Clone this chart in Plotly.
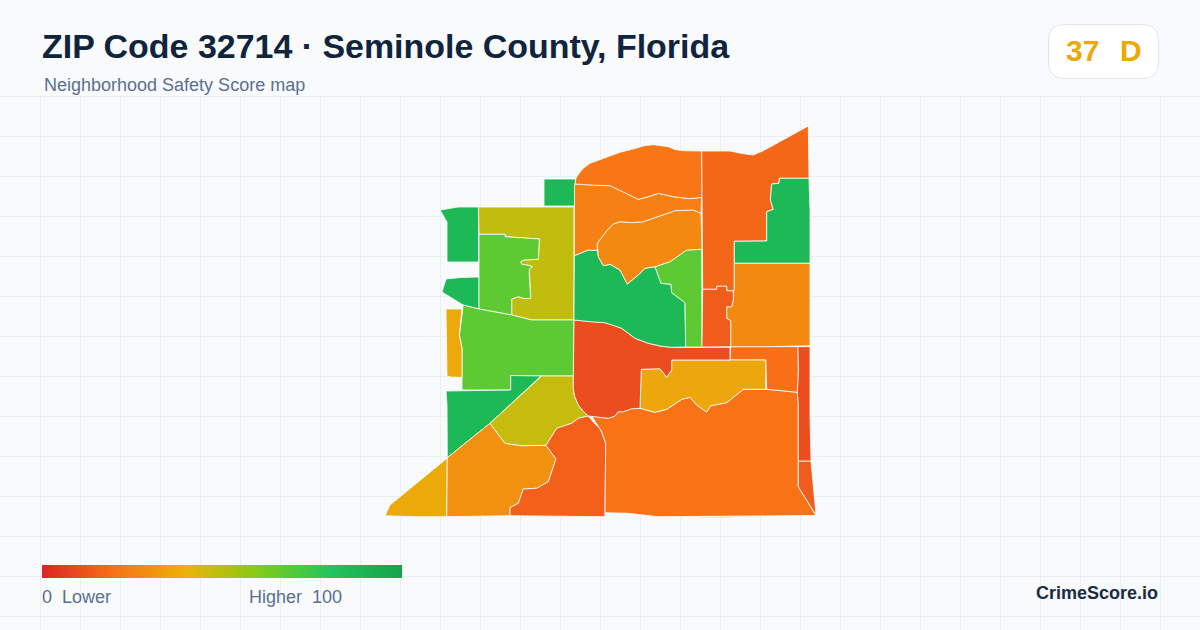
import plotly.graph_objects as go
from plotly.colors import sample_colorscale

title = "ZIP Code 32714 · Seminole County, Florida"
subtitle = "Neighborhood Safety Score map"
zip_score = 37
zip_grade = "D"
brand = "CrimeScore.io"

score_stops = [0, 0.2, 0.4, 0.6, 0.8, 1]
score_colors = ["rgb(220,38,38)", "rgb(249,115,22)", "rgb(234,179,8)", "rgb(132,204,22)", "rgb(34,197,94)", "rgb(22,163,74)"]
legend_scores = list(range(0, 101))

# one score per tract
tract_scores = [87, 87, 87, 48, 68, 68, 37, 87, 37, 29, 47, 15, 20, 14, 10, 19, 36, 10, 87, 68, 27, 24, 21, 17, 87, 27, 14, 36]

# tract outlines
tract_outlines = [
    [(544, 179), (575.5, 179), (575, 206), (544, 206)],
    [(440, 210), (458, 207), (478.5, 207), (478.5, 262), (447, 262), (447, 222)],
    [(446, 279), (460, 277.5), (479, 277), (479, 309), (463, 305), (442, 292)],
    [(478.5, 207), (574, 207), (574, 320), (532, 320), (511.7, 315), (511.7, 299), (518.3, 296.7), (525, 298.7), (530.7, 298.3), (529.3, 276.7), (529.3, 269.3), (532.3, 266.7), (528.3, 265.3), (521.7, 264.3), (520.7, 261.7), (523.3, 260), (538.3, 259.3), (539.3, 239), (521.7, 238), (505, 236.7), (505, 234.3), (479, 234.3)],
    [(479, 234.3), (505, 234.3), (505, 236.7), (521.7, 238), (539.3, 239), (538.3, 259.3), (523.3, 260), (520.7, 261.7), (521.7, 264.3), (528.3, 265.3), (532.3, 266.7), (529.3, 269.3), (529.3, 276.7), (530.7, 298.3), (525, 298.7), (518.3, 296.7), (511.7, 299), (511.7, 315), (479, 309)],
    [(463, 305), (479, 309), (511.7, 315), (532, 320), (574, 320), (573.5, 376), (541, 376), (510.7, 375.5), (510.7, 390), (462, 390), (462, 348), (459.3, 335), (462.7, 310)],
    [(446, 309), (462, 309), (459.3, 335), (462, 348), (462, 377.5), (450, 377), (447, 376), (446.5, 343)],
    [(446, 391), (510.7, 390), (510.7, 375.5), (541, 376), (490, 423.3), (447.3, 457.7), (447, 405)],
    [(385, 515.7), (390, 505), (447.3, 458), (446.7, 516.7), (415, 516.7)],
    [(447.3, 457.7), (490, 423.3), (505, 443.3), (521.7, 445.7), (546, 445.3), (556, 459), (548.3, 481.7), (536.7, 488.3), (523.3, 489), (518.3, 503.3), (510, 507.7), (510, 515.7), (446.7, 516.7)],
    [(541.7, 376), (573.3, 376), (573.3, 388.3), (574.5, 396), (578.3, 405), (583, 411), (588.3, 416), (578.3, 418.3), (571.7, 423.3), (556.7, 428.3), (546, 445.3), (521.7, 445.7), (505, 443.3), (490, 423.3)],
    [(588.3, 416), (595, 424), (600, 428.3), (605.7, 443.3), (605, 511.7), (604.7, 516.7), (510, 515.7), (510, 507.7), (518.3, 503.3), (523.3, 489), (536.7, 488.3), (548.3, 481.7), (556, 459), (546, 445.3), (556.7, 428.3), (571.7, 423.3), (578.3, 418.3)],
    [(591.7, 416), (600, 417.3), (608.3, 418.3), (615, 416), (618.3, 411.7), (623.3, 411.7), (631.7, 408.7), (640, 408.3), (655, 412.3), (666.7, 409.3), (681.7, 399.3), (690, 397.3), (696.7, 405), (706.7, 412), (710.7, 405.7), (726.7, 402.7), (743.3, 389.3), (766.7, 389.3), (781.7, 390.7), (797.3, 392.3), (798.3, 403.3), (798.3, 486.7), (815, 514), (816, 515.5), (658, 516.7), (628.3, 513.3), (605, 512.7), (605.7, 443.3), (601.7, 431.7)],
    [(798.3, 461), (811, 461), (816, 515), (798.3, 486.7)],
    [(797.7, 346.7), (810, 346.7), (810, 416), (811, 461), (798.3, 461), (798.3, 403.3), (797.3, 392.3), (798.3, 370)],
    [(730.7, 346.7), (797.7, 346.7), (798.3, 370), (797.3, 392.3), (781.7, 390.7), (766.7, 389.3), (765.7, 360), (730, 360)],
    [(671.7, 360), (765.7, 360), (765.7, 389.3), (743.3, 389.3), (726.7, 402.7), (710.7, 405.7), (706.7, 412), (696.7, 405), (690, 397.3), (681.7, 399.3), (666.7, 409.3), (655, 412.3), (640, 408.3), (641.3, 369.3), (660, 368.7), (666.7, 377.3), (671.7, 370)],
    [(574, 320), (590, 321.7), (605, 322.7), (613, 325), (621.7, 328.3), (635, 338.3), (648.3, 343.3), (661.7, 346.3), (671.7, 347.3), (730, 347.3), (730, 360), (671.7, 360), (671.7, 370), (666.7, 377.3), (660, 368.7), (641.3, 369.3), (640, 408.3), (631.7, 408.7), (623.3, 411.7), (618.3, 411.7), (615, 416), (608.3, 418.3), (600, 417.3), (591.7, 416), (588.3, 416), (583, 411), (578.3, 405), (574.5, 396), (573.3, 388.3), (573.3, 376)],
    [(574.3, 255.7), (588.3, 250), (597.3, 250.3), (598.3, 256.7), (603.3, 265.7), (610, 264.3), (620, 270), (627.3, 284), (638.3, 275), (645, 268.3), (655, 266.7), (661, 283.3), (671, 284.3), (671.7, 292.7), (685, 302.7), (685.7, 347), (671.7, 347.3), (661.7, 346.3), (648.3, 343.3), (635, 338.3), (621.7, 328.3), (613, 325), (605, 322.7), (590, 321.7), (574, 320)],
    [(655, 266.7), (670, 261.7), (686.7, 250), (701.7, 249.3), (702, 347), (685.7, 347), (685, 302.7), (671.7, 292.7), (671, 284.3), (661, 283.3)],
    [(597.3, 243.3), (606.7, 230.7), (613.3, 224), (620, 221.7), (631.7, 222.7), (643.3, 221.7), (675, 210.7), (693.3, 210), (701, 213.3), (702, 249.3), (686.7, 250), (670, 261.7), (655, 266.7), (645, 268.3), (638.3, 275), (627.3, 284), (620, 270), (610, 264.3), (603.3, 265.7), (598.3, 256.7)],
    [(574.5, 184), (590, 185), (610, 185.7), (623.3, 191.7), (631, 196), (638.3, 199.3), (648.3, 196.7), (658.3, 193.3), (673.3, 196.7), (690, 198.7), (701.7, 197.3), (701, 213.3), (693.3, 210), (675, 210.7), (643.3, 221.7), (631.7, 222.7), (620, 221.7), (613.3, 224), (606.7, 230.7), (597.3, 243.3), (597.3, 250.3), (588.3, 250), (574.3, 255.7)],
    [(575, 184), (576, 178), (579, 173.5), (583, 168.5), (590, 163.3), (605, 157.5), (620, 152.3), (635, 148.5), (645, 145.5), (653.3, 144.7), (661, 145.5), (668.3, 146.7), (675, 149.5), (683.3, 150.7), (701.7, 151), (702, 197.3), (690, 198.7), (673.3, 196.7), (658.3, 193.3), (648.3, 196.7), (638.3, 199.3), (631, 196), (623.3, 191.7), (610, 185.7), (590, 185)],
    [(701.7, 151), (730, 151), (742, 153.5), (753.3, 155), (763.3, 150.7), (808.3, 126), (809, 178.3), (779.3, 178.3), (779, 183.3), (771.7, 184), (770.3, 200), (773.3, 209.3), (766.7, 211.7), (766.7, 241), (734.3, 241.3), (734.3, 290), (733.3, 291), (726.7, 290.7), (726.7, 286.3), (716.7, 286.3), (716.7, 289.3), (702.7, 289.3)],
    [(779.3, 178.3), (809, 178.3), (810, 210), (810, 263.3), (734.3, 263.3), (734.3, 241.3), (766.7, 241), (766.7, 211.7), (773.3, 209.3), (770.3, 200), (771.7, 184), (779, 183.3)],
    [(734.3, 263.3), (810, 263.3), (810, 345.7), (770, 346.7), (730.7, 346.7), (730.7, 320.7), (726.7, 318.3), (726.7, 306.7), (731.7, 306.7), (733.3, 300), (733.3, 291), (734.3, 290)],
    [(702.7, 289.3), (716.7, 289.3), (716.7, 286.3), (726.7, 286.3), (726.7, 290.7), (733.3, 291), (733.3, 300), (731.7, 306.7), (726.7, 306.7), (726.7, 318.3), (730.7, 320.7), (730.7, 346.7), (702, 347)],
    [(701, 516.5), (733, 516.5), (733, 517.7), (701, 517.7)],
]

colorscale = [[s, c] for s, c in zip(score_stops, score_colors)]


def score_color(score):
    return sample_colorscale(colorscale, [score / 100])[0]


def label(x, y, text, size, color, anchor="left", bold=False):
    return dict(
        x=x, y=y, text=f"<b>{text}</b>" if bold else text, showarrow=False,
        xref="x", yref="y", xanchor=anchor, yanchor="middle", borderpad=0,
        font=dict(family="Liberation Sans", size=size, color=color),
    )


fig = go.Figure()

for score, outline in zip(tract_scores, tract_outlines):
    fig.add_trace(go.Scatter(
        x=[p[0] for p in outline] + [outline[0][0]],
        y=[p[1] for p in outline] + [outline[0][1]],
        mode="lines", fill="toself", fillcolor=score_color(score),
        line=dict(color="#ffffff", width=0.8), hoverinfo="skip", showlegend=False,
    ))

# legend bar
fig.add_trace(go.Heatmap(
    x=[42 + 3.564 * (s + 0.5) for s in legend_scores], y=[568.25, 574.75],
    z=[legend_scores, legend_scores], zmin=0, zmax=100, zsmooth="best",
    colorscale=colorscale, showscale=False, hoverinfo="skip",
))

# header band hides the grid, then the score badge on top
fig.add_shape(type="rect", x0=0, x1=1200, y0=0, y1=96, layer="between",
              fillcolor="#f8fafc", line_width=0)
fig.add_shape(type="path", layer="between", fillcolor="#ffffff",
              line=dict(color="#dfe5ee", width=1),
              path="M 1064.5 24.5 H 1142.5 Q 1158.5 24.5 1158.5 40.5 V 62.5 "
                   "Q 1158.5 78.5 1142.5 78.5 H 1064.5 Q 1048.5 78.5 1048.5 62.5 "
                   "V 40.5 Q 1048.5 24.5 1064.5 24.5 Z")

badge_color = score_color(zip_score)
annotations = [
    label(41, 46, title, 33.95, "#10243e", bold=True),
    label(43, 84.5, subtitle, 18, "#5b7090"),
    label(1065, 50.5, str(zip_score), 30, badge_color, bold=True),
    label(1118.5, 50.5, zip_grade, 30, badge_color, bold=True),
    label(41, 596.5, "0  Lower", 18, "#5b7090"),
    label(248, 596.5, "Higher  100", 18, "#5b7090"),
    label(1159, 592.5, brand, 18, "#1a2b42", anchor="right", bold=True),
]

fig.update_layout(
    width=1200, height=630, margin=dict(l=0, r=0, t=0, b=0),
    paper_bgcolor="#f8fafc", plot_bgcolor="#f8fafc",
    annotations=annotations, showlegend=False,
)
fig.update_xaxes(range=[0, 1200], tick0=40.5, dtick=40, showgrid=True, gridcolor="#e7f0f3",
                 gridwidth=1, zeroline=False, showticklabels=False, ticks="", showline=False)
fig.update_yaxes(range=[630, 0], tick0=16.5, dtick=40, showgrid=True, gridcolor="#e7f0f3",
                 gridwidth=1, zeroline=False, showticklabels=False, ticks="", showline=False)

fig.write_html("out.html", config={"displayModeBar": False},
               post_script="document.body.style.margin='0';document.body.style.overflow='hidden';")
